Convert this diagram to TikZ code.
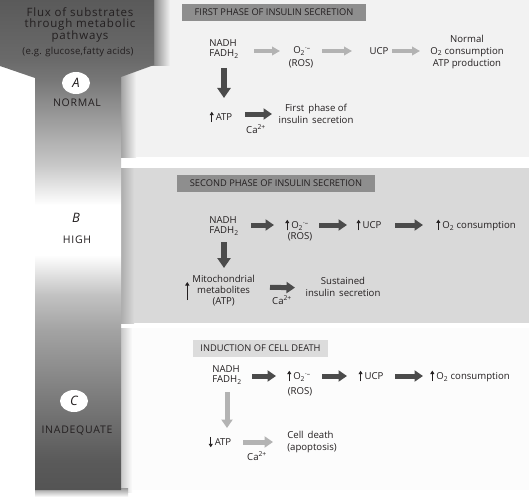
\documentclass[tikz,border=0pt]{standalone}
\usepackage{fontspec}
\setmainfont{Open Sans}
\newfontfamily\spacedfont[LetterSpace=7]{Open Sans}
\newfontfamily\egfont[LetterSpace=2]{Open Sans}
\usetikzlibrary{arrows.meta,shapes.geometric,calc}
\definecolor{panelA}{HTML}{F2F2F2}
\definecolor{panelB}{HTML}{D9D9D9}
\definecolor{panelC}{HTML}{FCFCFC}
\definecolor{titleAB}{HTML}{8E8E8E}
\definecolor{titleC}{HTML}{DCDCDC}
\definecolor{txtc}{HTML}{231F20}
\definecolor{arrd}{HTML}{4B4B4B}
\definecolor{arrg}{HTML}{B3B3B3}
\definecolor{sA}{HTML}{5A5A5A}
\definecolor{sB}{HTML}{6A6A6A}
\definecolor{sC}{HTML}{777777}
\definecolor{sD}{HTML}{A6A6A6}
\definecolor{sE}{HTML}{C8C8C8}
\definecolor{sF}{HTML}{C2C2C2}
\definecolor{sG}{HTML}{A3A3A3}
\definecolor{sH}{HTML}{7A7A7A}
\definecolor{sI}{HTML}{5A5A5A}
\definecolor{sJ}{HTML}{545454}
\pgfdeclareverticalshading{fluxshade}{100bp}{color(0bp)=(sJ); color(25bp)=(sJ); color(28.06bp)=(sI); color(34.18bp)=(sH); color(41.33bp)=(sG); color(44.9bp)=(sF); color(48.98bp)=(white); color(54.08bp)=(white); color(58.16bp)=(sE); color(61.73bp)=(sD); color(66.84bp)=(sC); color(68.88bp)=(sB); color(75bp)=(sA); color(100bp)=(sA)}
\newcommand\upa{\tikz[baseline=0pt]\draw[draw=txtc,line width=1pt,-{Triangle[length=3.4pt,width=4pt]}] (0pt,-1.5pt) -- (0pt,9pt);\hspace{2pt}}
\newcommand\dna{\tikz[baseline=0pt]\draw[draw=txtc,line width=1pt,-{Triangle[length=3.4pt,width=4pt]}] (0pt,9pt) -- (0pt,-1.5pt);\hspace{2pt}}
\newcommand\upatall{\tikz[baseline=0pt]\draw[draw=txtc,line width=1pt,-{Triangle[length=3.6pt,width=4.2pt]}] (0pt,-6.5pt) -- (0pt,11.5pt);}
\newcommand\supox{O\textsubscript{2}\textsuperscript{·–}}
\tikzset{
  txt/.style={inner sep=1pt, font=\fontsize{9.6}{10}\selectfont, text=txtc, align=center},
  ttl/.style={inner sep=0pt, font=\fontsize{9.3}{10}\selectfont, text=txtc, minimum height=17pt},
  side/.style={inner sep=1pt, font=\fontsize{10.5}{10}\spacedfont, text=txtc},
  letter/.style={ellipse, fill=white, inner sep=0pt, minimum width=28pt, minimum height=22pt, font=\fontsize{13}{13}\itshape, text=txtc},
  darr/.style={draw=arrd, line width=5pt, -{Triangle[length=8.5pt,width=11pt]}},
  garr/.style={draw=arrg, line width=5pt, -{Triangle[length=8.5pt,width=11pt]}},
  garrthin/.style={draw=arrg, line width=3.5pt, -{Triangle[length=8pt,width=8.5pt]}},
  vdarr/.style={draw=arrd, line width=6.5pt, -{Triangle[length=10pt,width=13pt]}},
}
\begin{document}
\begin{tikzpicture}[x=1pt,y=-1pt]
\useasboundingbox (0,0) rectangle (529,500);
\fill[white] (0,0) rectangle (529,500);
% panels
\fill[panelA] (121,0) rectangle (529,157);
\fill[panelB] (121,168) rectangle (529,323);
\fill[panelC] (121,328) rectangle (529,490);
% shadows of the flux column
\shade[left color=black!55, right color=panelA] (150,0) rectangle (170,66);
\shade[left color=black!40, right color=panelA] (119,66) rectangle (136,157);
\shade[left color=black!35, right color=panelB] (119,168) rectangle (134,323);
\shade[left color=black!25, right color=panelC] (119,328) rectangle (132,492);
\shade[top color=black!40, bottom color=white] (35,488) rectangle (128,497);
% flux column
\shade[shading=fluxshade] (0,0) -- (154,0) -- (154,65) -- (121,77) -- (121,490) -- (35,490) -- (35,78) -- (0,66) -- cycle;
\node[side, font=\fontsize{11.5}{11}\spacedfont, align=center] (flux) at (80,25) {Flux of substrates\\through metabolic\\pathways};
\node[side, font=\fontsize{9.6}{10}\egfont] (eg) at (78,52) {(e.g. glucose,fatty acids)};
\node[letter] (circA) at (76,83) {A};
\node[side] (normal) at (77,103) {NORMAL};
\node[side, font=\fontsize{13}{13}\itshape] (letB) at (76,218) {B};
\node[side] (high) at (77,240) {HIGH};
\node[letter] (circC) at (74,401) {C};
\node[side] (inad) at (77,431) {INADEQUATE};
% ---------- panel A
\node[ttl, fill=titleAB, minimum width=184pt] (titleA) at (274,12.5) {FIRST PHASE OF INSULIN SECRETION};
\node[txt, align=left] (nadhA) at (224,49) {NADH\\FADH\textsubscript{2}};
\node[txt] (o2A) at (302,51) {\supox};
\node[txt] (rosA) at (301,64) {(ROS)};
\node[txt] (ucpA) at (379,51) {UCP};
\node[txt, font=\fontsize{9.6}{12}\selectfont] (normA) at (467,52) {Normal\\O\textsubscript{2} consumption\\ATP production};
\node[txt] (atpA) at (221,117) {\upa ATP};
\node[txt, font=\fontsize{9.6}{12}\selectfont] (firstA) at (316,114) {First\, phase of\\insulin\, secretion};
\node[txt] (caA) at (256,129) {Ca\textsuperscript{2+}};
\draw[garrthin, shorten <=30pt, shorten >=22pt] (o2A.center -| nadhA.center) -- (o2A.center);
\draw[garrthin, shorten <=20pt, shorten >=27pt] (o2A.center) -- (ucpA.center);
\draw[garrthin, shorten <=13pt, shorten >=47pt] (ucpA.center) -- (ucpA.center -| normA.center);
\draw[vdarr, shorten <=19pt, shorten >=19pt] (nadhA.center) -- (nadhA.center |- atpA.center);
\draw[darr, shorten <=24pt, shorten >=44pt] (firstA.center -| atpA.center) -- (firstA.center);
% ---------- panel B
\node[ttl, fill=titleAB, minimum width=198pt] (titleB) at (276,183.5) {SECOND PHASE OF INSULIN SECRETION};
\node[txt, align=left] (nadhB) at (224,226) {NADH\\FADH\textsubscript{2}};
\node[txt] (o2B) at (297,225) {\upa\supox};
\node[txt] (rosB) at (300,237) {(ROS)};
\node[txt] (ucpB) at (369,225) {\upa UCP};
\node[txt] (consB) at (476,225) {\upa O\textsubscript{2} consumption};
\node[txt] (mitoB) at (220,291) {\upatall\hspace{3pt}$\vcenter{\hbox{\fontsize{9.6}{11}\selectfont\begin{tabular}{@{}c@{}}Mitochondrial\\metabolites\\(ATP)\end{tabular}}}$};
\node[txt, font=\fontsize{9.6}{12}\selectfont] (sustB) at (343,287) {Sustained\\insulin\, secretion};
\node[txt] (caB) at (282,300) {Ca\textsuperscript{2+}};
\draw[darr, shorten <=27pt, shorten >=23pt] (o2B.center -| nadhB.center) -- (o2B.center);
\draw[darr, shorten <=22pt, shorten >=22pt] (o2B.center) -- (ucpB.center);
\draw[darr, shorten <=26pt, shorten >=53pt] (ucpB.center) -- (consB.center);
\draw[vdarr, shorten <=16pt, shorten >=23pt] (nadhB.center) -- (nadhB.center |- mitoB.center);
\draw[darr, shorten <=50pt, shorten >=48pt] (sustB.center -| mitoB.center) -- ([yshift=-1pt]sustB.center);
% ---------- panel C
\node[ttl, fill=titleC, minimum width=135pt] (titleC) at (260.5,348.5) {INDUCTION OF CELL DEATH};
\node[txt, align=left] (nadhC) at (227,375) {NADH\\FADH\textsubscript{2}};
\node[txt] (o2C) at (299,376) {\upa\supox};
\node[txt] (rosC) at (300,392) {(ROS)};
\node[txt] (ucpC) at (371,376) {\upa UCP};
\node[txt] (consC) at (470,376) {\upa O\textsubscript{2} consumption};
\node[txt] (atpC) at (220,442) {\dna ATP};
\node[txt, align=left, font=\fontsize{9.6}{11.5}\selectfont] (deathC) at (312,442) {Cell\, death\\(apoptosis)};
\node[txt] (caC) at (257,456) {Ca\textsuperscript{2+}};
\draw[darr, shorten <=25pt, shorten >=23pt] (o2C.center -| nadhC.center) -- (o2C.center);
\draw[darr, shorten <=23pt, shorten >=24pt] (o2C.center) -- (ucpC.center);
\draw[darr, shorten <=24pt, shorten >=47pt] (ucpC.center) -- (consC.center);
\draw[garr, shorten <=17pt, shorten >=14pt] (nadhC.center) -- (nadhC.center |- atpC.center);
\draw[garr, shorten <=23pt, shorten >=39pt] (deathC.center -| atpC.center) -- (deathC.center);
\end{tikzpicture}
\end{document}
